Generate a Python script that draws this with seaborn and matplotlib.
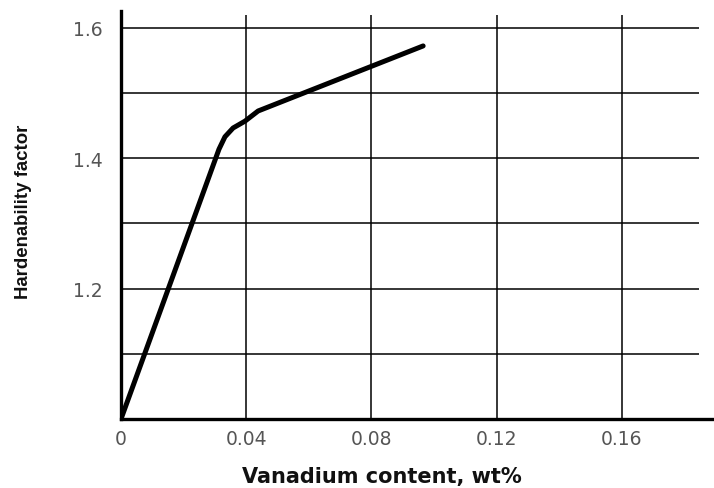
import matplotlib
matplotlib.use("Agg")
import matplotlib.pyplot as plt
import seaborn as sns
import pandas as pd

# Data
vanadium = [0.0, 0.0313, 0.0332, 0.0358, 0.0396, 0.0438, 0.0965]
hardenability = [1.0, 1.414, 1.433, 1.4465, 1.457, 1.4726, 1.5724]

x_ticks = [0.0, 0.04, 0.08, 0.12, 0.16]
x_tick_labels = ["0", "0.04", "0.08", "0.12", "0.16"]
y_grid = [1.1, 1.2, 1.3, 1.4, 1.5, 1.6]
y_ticks = [1.2, 1.4, 1.6]
y_tick_labels = ["1.2", "1.4", "1.6"]

df = pd.DataFrame({"Vanadium": vanadium, "Hardenability": hardenability})

sns.set_style("white")
plt.rcParams["font.family"] = ["DejaVu Sans"]

fig = plt.figure(figsize=(7.14, 4.89), dpi=100)
W, H = 714, 489
left, right, bottom, top = 121, 714, 420, 12
ax = fig.add_axes([left / W, (H - bottom) / H, (right - left) / W, (bottom - top) / H])

xmax = 0.1894
ymin, ymax = 1.0, 1.626
grid_xend = 0.1846
grid_ytop = 1.62

# grid lines (partial extents as in the reference)
ax.hlines(y_grid, 0, grid_xend, colors="black", linewidth=1.1, zorder=1)
ax.vlines(x_ticks[1:], ymin, grid_ytop, colors="black", linewidth=1.1, zorder=1)

sns.lineplot(data=df, x="Vanadium", y="Hardenability", sort=False, ax=ax,
             color="black", linewidth=3.6, zorder=3)

ax.set_xlim(0, xmax)
ax.set_ylim(ymin, ymax)

ax.set_xticks(x_ticks)
ax.set_xticklabels(x_tick_labels)
ax.set_yticks(y_ticks)
ax.set_yticklabels(y_tick_labels)
ax.tick_params(axis="both", length=0, labelsize=13.5, labelcolor="#555555")
ax.tick_params(axis="x", pad=7)
ax.tick_params(axis="y", pad=13)

for s in ["top", "right"]:
    ax.spines[s].set_visible(False)
for s in ["left", "bottom"]:
    ax.spines[s].set_linewidth(2.4)
    ax.spines[s].set_color("black")

ax.set_xlabel("Vanadium content, wt%", fontsize=15, fontweight="bold",
              family=["DejaVu Sans"], va="center", color="#111111")
ax.xaxis.set_label_coords(0.44, -0.14)
ax.set_ylabel("Hardenability factor", fontsize=13.4, fontweight="bold",
              family=["Liberation Sans", "DejaVu Sans"], va="center",
              color="#111111")
ax.yaxis.set_label_coords(-0.165, 0.51)

fig.savefig("out.png", dpi=100)
